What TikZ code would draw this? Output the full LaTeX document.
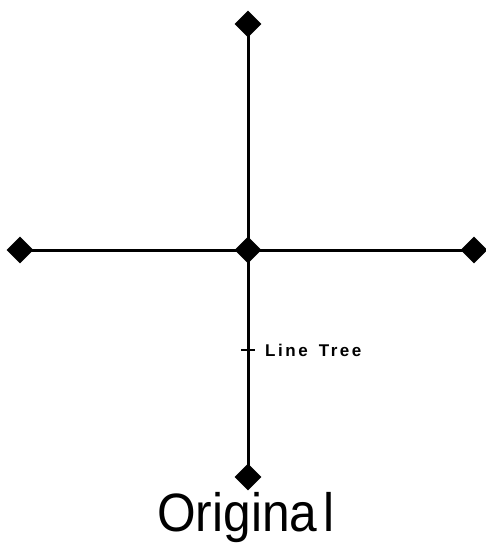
\documentclass[tikz,border=0pt]{standalone}
\usepackage{fontspec}
\setmainfont{Liberation Sans}
\newfontfamily\smallletter[LetterSpace=15]{Liberation Sans}
\newfontfamily\bigletter{Liberation Sans}
\usetikzlibrary{shapes.geometric}
\begin{document}
\begin{tikzpicture}[x=1pt,y=-1pt,
  vertex/.style={diamond,fill=black,draw=none,minimum size=27pt,inner sep=0pt},
  edge/.style={line width=3pt},
  lbl/.style={inner sep=0pt,anchor=base west}]
\useasboundingbox (0,0) rectangle (486,543);
\node[vertex] (c) at (248,250) {};
\node[vertex] (t) at (248,24) {};
\node[vertex] (l) at (20,250) {};
\node[vertex] (r) at (474,250) {};
\node[vertex] (b) at (248,477) {};
\draw[edge] (t.center) -- (c.center);
\draw[edge] (c.center) -- (b.center);
\draw[edge] (l.center) -- (r.center);
\coordinate (tk) at (248,350);
\draw[line width=2.2pt] ([xshift=-7pt]tk) -- ([xshift=7pt]tk);
\node[lbl,font=\smallletter\bfseries\fontsize{17}{17}\selectfont] (lt) at (265,356) {Line\kern11pt Tree};
\node[lbl,font=\bigletter\fontsize{54}{54}\selectfont] (orig) at (157,531) {\scalebox{0.92}[1]{Origina\kern7pt l}};
\end{tikzpicture}
\end{document}
